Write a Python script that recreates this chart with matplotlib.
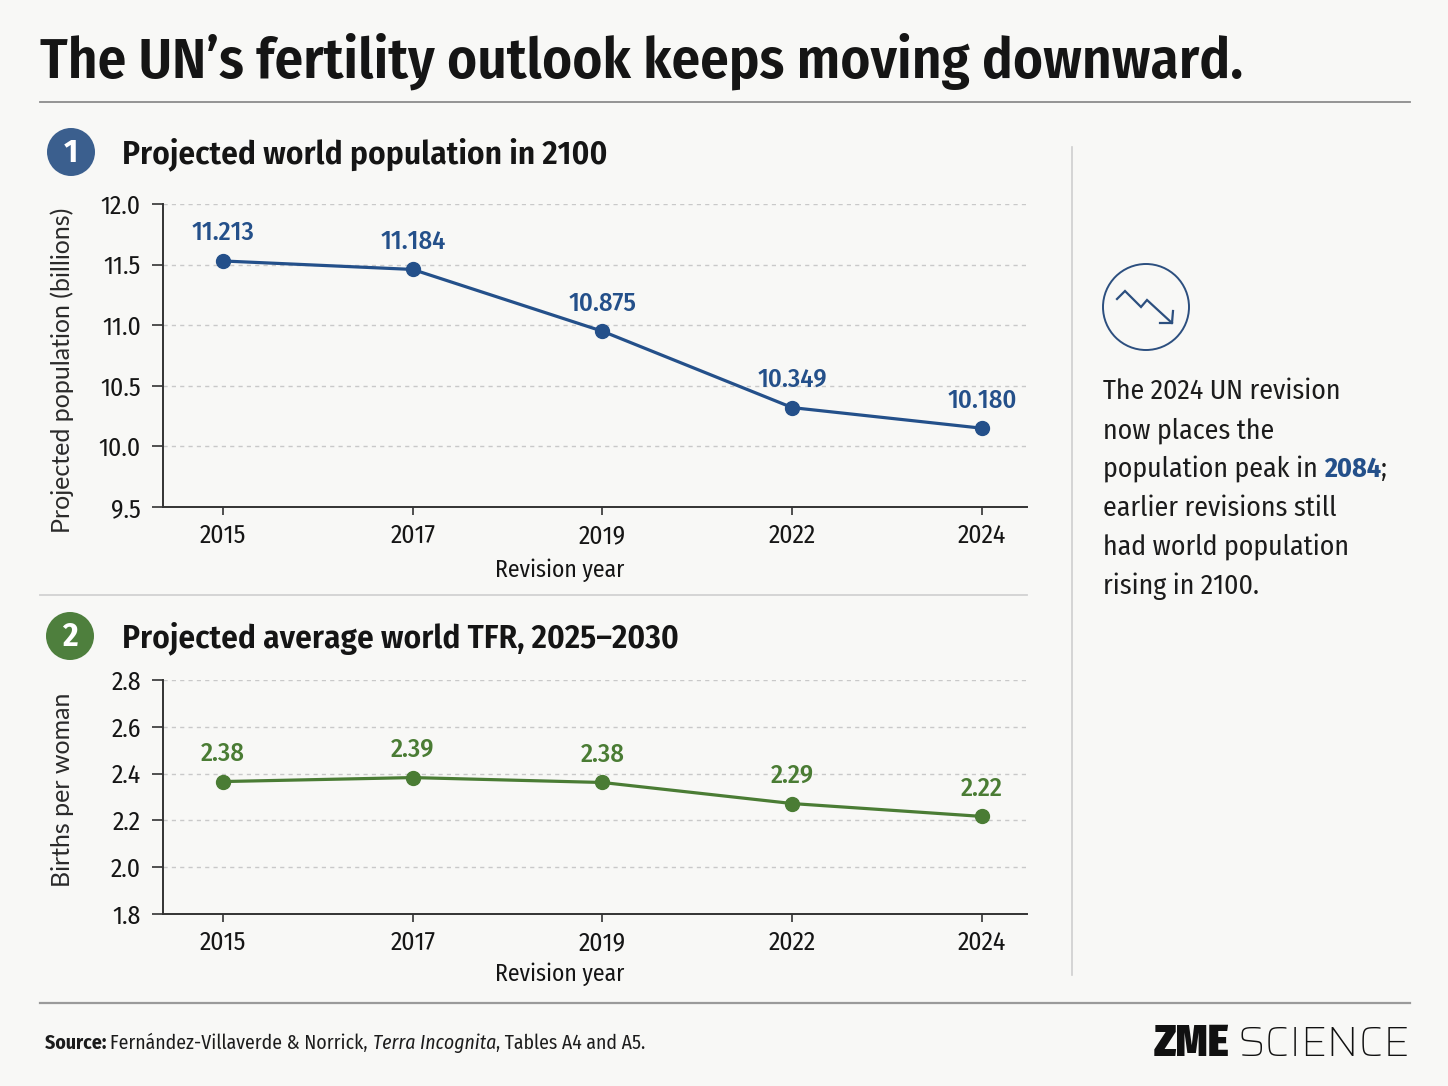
import matplotlib
matplotlib.use("Agg")
import matplotlib.pyplot as plt
from matplotlib import font_manager as fm
from matplotlib.patches import Circle

# ---- data ----
revisions = ["2015", "2017", "2019", "2022", "2024"]
pop_2100 = [11.53, 11.46, 10.95, 10.32, 10.15]
pop_labels = ["11.213", "11.184", "10.875", "10.349", "10.180"]
tfr = [2.366, 2.383, 2.362, 2.272, 2.217]
tfr_labels = ["2.38", "2.39", "2.38", "2.29", "2.22"]
pop_ticks = [9.5, 10.0, 10.5, 11.0, 11.5, 12.0]
tfr_ticks = [1.8, 2.0, 2.2, 2.4, 2.6, 2.8]

W, H = 1448, 1086
BG = "#f8f8f6"
BLUE = "#24508a"
GREEN = "#4a7c34"
INK = "#151515"


def pick(*cands):
    avail = {f.name for f in fm.fontManager.ttflist}
    for c in cands:
        if c in avail:
            return c
    return "DejaVu Sans"


F_TITLE = pick("Fira Sans Condensed", "Fira Sans", "Open Sans")
F_COND = pick("Fira Sans Condensed", "Roboto Condensed", "IBM Plex Sans Condensed", "Open Sans Condensed")
F_WIDE = pick("Lato", "Noto Sans")
F_LOGO = pick("Saira", "Exo 2", "Roboto Condensed", F_COND)

fig = plt.figure(figsize=(W / 100, H / 100), dpi=100, facecolor=BG)

# overlay in pixel coords for the decoration
ov = fig.add_axes([0, 0, 1, 1])
ov.set_xlim(0, W)
ov.set_ylim(H, 0)
ov.axis("off")
ov.set_zorder(0)


def frac(x0, y_top, x1, y_bot):
    return [x0 / W, 1 - y_bot / H, (x1 - x0) / W, (y_bot - y_top) / H]


def line_chart(rect, values, labels, ticks, color, ylabel, ylab_y, xlab_y):
    ax = fig.add_axes(rect)
    ax.set_zorder(1)
    ax.patch.set_alpha(0)
    x = list(range(len(revisions)))
    ax.plot(x, values, color=color, lw=2.3, marker="o", ms=10, zorder=3)
    for xi, v, lab in zip(x, values, labels):
        ax.annotate(lab, (xi, v), xytext=(0, 11), textcoords="offset points",
                    ha="center", va="bottom", color=color, fontsize=19,
                    family=F_COND, weight="medium")
    ax.set_xlim(-0.316, 4.237)
    ax.set_ylim(ticks[0], ticks[-1])
    ax.set_yticks(ticks)
    ax.set_yticklabels([f"{t:.1f}" for t in ticks])
    ax.set_xticks(x)
    ax.set_xticklabels(revisions)
    for s in ("top", "right"):
        ax.spines[s].set_visible(False)
    for s in ("left", "bottom"):
        ax.spines[s].set_color("#333333")
        ax.spines[s].set_linewidth(1.4)
    ax.tick_params(axis="y", length=8, width=1.2, color="#333333", pad=8,
                   labelsize=18.5, labelcolor=INK)
    ax.tick_params(axis="x", length=6, width=1.2, color="#333333", pad=6,
                   labelsize=18.5, labelcolor=INK)
    for t in ax.get_xticklabels() + ax.get_yticklabels():
        t.set_family(F_COND)
    ax.grid(axis="y", color="#c9c9c9", lw=1, ls=(0, (3, 3)))
    ax.set_axisbelow(True)
    ax.set_xlabel("Revision year", family=F_COND, fontsize=17, color=INK)
    ax.xaxis.set_label_coords((560 - 163) / 864, xlab_y)
    ax.set_ylabel(ylabel, family=F_WIDE, fontsize=18, color="#2a2a2a")
    ax.yaxis.set_label_coords((74 - 163) / 864, ylab_y)
    return ax


ax1 = line_chart(frac(163, 204, 1027, 507), pop_2100, pop_labels, pop_ticks,
                 BLUE, "Projected population (billions)", (507 - 370) / 303, -0.17)
ax2 = line_chart(frac(163, 680, 1027, 914), tfr, tfr_labels, tfr_ticks,
                 GREEN, "Births per woman", (914 - 790) / 234, -0.205)

# ---- title and rules ----
ov.text(40, 77, "The UN\u2019s fertility outlook keeps moving downward.", family=F_TITLE,
        weight="semibold", fontsize=41, color=INK, va="baseline")
ov.plot([40, 1410], [102, 102], color="#8c8c8c", lw=1.3)
ov.plot([40, 1027], [595, 595], color="#d2d2d2", lw=1.3)
ov.plot([1072, 1072], [147, 975], color="#cfcfcf", lw=1.2)
ov.plot([40, 1410], [1003, 1003], color="#9a9a9a", lw=1.6)

# ---- section badges ----
for (cx, cy), num, col, sub in [((71, 152), "1", "#3b5f8e", "Projected world population in 2100"),
                                ((70, 636), "2", "#4e7f3d", "Projected average world TFR, 2025\u20132030")]:
    ov.add_patch(Circle((cx, cy), 24, fc=col, ec="none"))
    ov.text(cx, cy + 1, num, color="white", fontsize=24, weight="bold", family=F_COND,
            ha="center", va="center")
    ov.text(122, cy + 11, sub, family=F_COND, weight="semibold", fontsize=24, color=INK,
            va="baseline")

# ---- side note ----
ov.add_patch(Circle((1146, 307), 43, fc="none", ec="#2c4f7f", lw=1.4))
ov.plot([1117, 1125, 1141, 1147, 1172], [299, 291, 307, 300, 323], color="#2c4f7f", lw=1.6,
        solid_joinstyle="miter")
ov.plot([1160, 1172, 1173], [323, 323, 311], color="#2c4f7f", lw=1.6)

fig.canvas.draw()
rend = fig.canvas.get_renderer()


def run_text(x, y, parts, **kw):
    # draw a row of differently styled pieces one after another
    for txt, style in parts:
        t = ov.text(x, y, txt, va="baseline", **kw, **style)
        bb = t.get_window_extent(rend)
        x += bb.width
    return x


note = ["The 2024 UN revision", "now places the", None,
        "earlier revisions still", "had world population", "rising in 2100."]
for i, ln in enumerate(note):
    y = 399 + 39 * i
    if ln is None:
        run_text(1103, y, [("population peak in ", {"color": "#1c1c1c"}),
                           ("2084", {"color": BLUE, "weight": "bold"}),
                           (";", {"color": "#1c1c1c"})],
                 family=F_COND, fontsize=20)
    else:
        ov.text(1103, y, ln, va="baseline", family=F_COND, fontsize=20, color="#1c1c1c")

# ---- footer ----
run_text(45, 1049, [("Source: ", {"weight": "bold"}),
                    ("Fern\u00e1ndez-Villaverde & Norrick, ", {}),
                    ("Terra Incognita", {"style": "italic"}),
                    (", Tables A4 and A5.", {})], family=F_COND, fontsize=14.2, color="#1c1c1c")

sci = ov.text(1410, 1056, "SCIENCE", family=F_LOGO, fontsize=31, weight="light",
              color="#111111", ha="right", va="baseline")
sx = sci.get_window_extent(rend).x0
ov.text(sx - 9, 1056, "ZME", family=F_COND, fontsize=32, weight="black",
        color="#111111", ha="right", va="baseline")

fig.savefig("out.png", dpi=100, facecolor=BG)
